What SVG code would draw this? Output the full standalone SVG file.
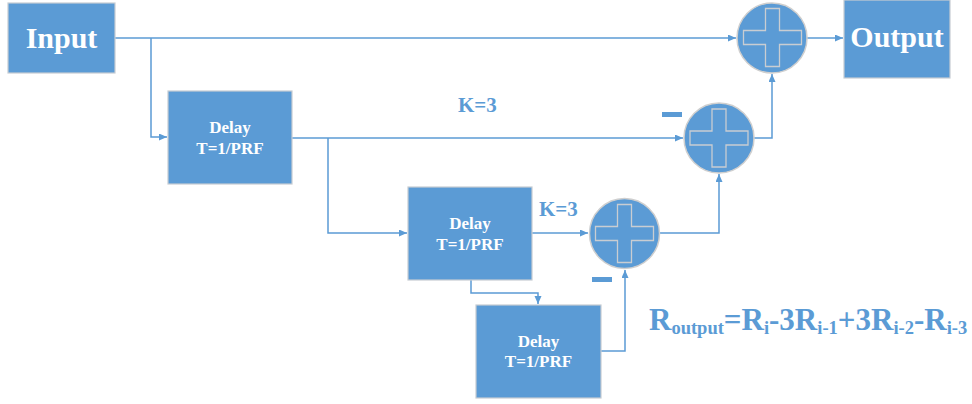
<svg xmlns="http://www.w3.org/2000/svg" width="972" height="404" viewBox="0 0 972 404">
<defs>
<style>
.box{fill:#5B9BD5;stroke:#C6CCD3;stroke-width:1.2}
.sum{fill:#5B9BD5;stroke:#CFCFCF;stroke-width:1.5}
.plus{fill:none;stroke:#C9CDD2;stroke-width:1.3}
.ln{fill:none;stroke:#5B9BD5;stroke-width:1.5}
.big{font-family:"Liberation Serif","Times New Roman",serif;font-weight:bold;font-size:30px;fill:#FFFFFF;text-anchor:middle}
.dl{font-family:"Liberation Serif","Times New Roman",serif;font-weight:bold;font-size:17px;fill:#FFFFFF;text-anchor:middle}
.k{font-family:"Liberation Serif","Times New Roman",serif;font-weight:bold;font-size:21px;fill:#5B9BD5}
.eq{font-family:"Liberation Serif","Times New Roman",serif;font-weight:bold;font-size:31px;fill:#5B9BD5}
.minus{fill:#5B9BD5}
</style>
<marker id="ah" markerUnits="userSpaceOnUse" markerWidth="9" markerHeight="8" refX="8" refY="3.5" orient="auto">
<path d="M0,0 L8,3.5 L0,7 z" fill="#5B9BD5"/>
</marker>
<path id="plusShape" d="M-7,-29 H7 V-7 H29 V7 H7 V29 H-7 V7 H-29 V-7 H-7 Z"/>
</defs>

<g id="connectors">
<path class="ln" d="M115,38 H736" marker-end="url(#ah)"/>
<path class="ln" d="M151,38 V137 H167" marker-end="url(#ah)"/>
<path class="ln" d="M807,38 H843" marker-end="url(#ah)"/>
<path class="ln" d="M292,138 H683" marker-end="url(#ah)"/>
<path class="ln" d="M328,138 V233 H407" marker-end="url(#ah)"/>
<path class="ln" d="M754,138 H772 V74" marker-end="url(#ah)"/>
<path class="ln" d="M532,233 H588" marker-end="url(#ah)"/>
<path class="ln" d="M660,233 H719 V174" marker-end="url(#ah)"/>
<path class="ln" d="M471,280 V293 H538 V304" marker-end="url(#ah)"/>
<path class="ln" d="M601,351 H625 V270" marker-end="url(#ah)"/>
</g>

<g id="input">
<rect class="box" x="8" y="3" width="107" height="70"/>
<text class="big" x="61.5" y="48">Input</text>
</g>

<g id="output">
<rect class="box" x="844" y="0" width="106" height="78"/>
<text class="big" x="897" y="47">Output</text>
</g>

<g id="delay1">
<rect class="box" x="168" y="91" width="124" height="93"/>
<text class="dl" x="230" y="133">Delay</text>
<text class="dl" x="230" y="154">T=1/PRF</text>
</g>

<g id="delay2">
<rect class="box" x="408" y="187" width="124" height="93"/>
<text class="dl" x="470" y="229">Delay</text>
<text class="dl" x="470" y="250">T=1/PRF</text>
</g>

<g id="delay3">
<rect class="box" x="476" y="305" width="125" height="93"/>
<text class="dl" x="538.5" y="347">Delay</text>
<text class="dl" x="538.5" y="367">T=1/PRF</text>
</g>

<g id="sum1">
<circle class="sum" cx="772" cy="38" r="35"/>
<use href="#plusShape" class="plus" x="772.5" y="37.5"/>
</g>

<g id="sum2">
<circle class="sum" cx="719" cy="138" r="35"/>
<use href="#plusShape" class="plus" x="719" y="138"/>
<rect class="minus" x="662" y="112" width="20" height="5"/>
<text class="k" x="458" y="112">K=3</text>
</g>

<g id="sum3">
<circle class="sum" cx="624.5" cy="233.5" r="35"/>
<use href="#plusShape" class="plus" x="624.5" y="233.5"/>
<rect class="minus" x="592" y="277" width="20" height="5"/>
<text class="k" x="539" y="216">K=3</text>
</g>

<g id="equation">
<text class="eq" x="649" y="330">R<tspan font-size="18.5" dy="4">output</tspan><tspan dy="-4">=R</tspan><tspan font-size="18.5" dy="4">i</tspan><tspan dy="-4">-3R</tspan><tspan font-size="18.5" dy="4">i-1</tspan><tspan dy="-4">+3R</tspan><tspan font-size="18.5" dy="4">i-2</tspan><tspan dy="-4">-R</tspan><tspan font-size="18.5" dy="4">i-3</tspan></text>
</g>
</svg>
